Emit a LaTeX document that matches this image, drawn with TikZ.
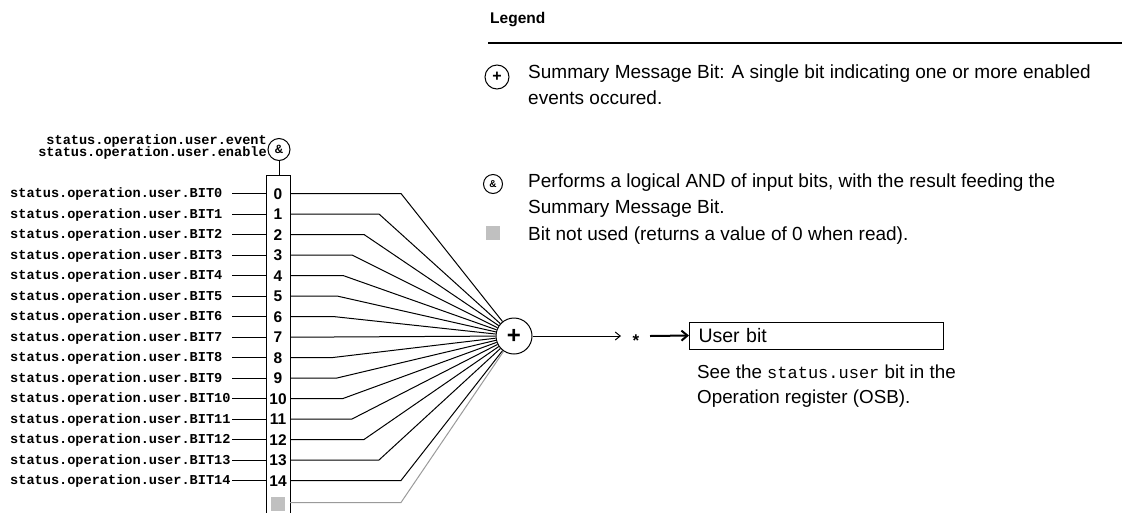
\documentclass[tikz,border=0pt]{standalone}
\usepackage{fontspec}
\setmainfont{Liberation Sans}
\setsansfont{Liberation Sans}
\setmonofont{Liberation Mono}
\usetikzlibrary{arrows.meta}
\definecolor{unused}{HTML}{C0C0C0}
\definecolor{unusedline}{HTML}{9A9A9A}
\tikzset{
 bitlbl/.style={anchor=base west, inner sep=0, font=\ttfamily\bfseries\fontsize{13.6}{14}\selectfont},
 evlbl/.style={anchor=base east, inner sep=0, font=\ttfamily\bfseries\fontsize{13.6}{14}\selectfont},
 bitnum/.style={anchor=base, inner sep=0, font=\bfseries\fontsize{15.5}{16}\selectfont},
 legtxt/.style={anchor=base west, inner sep=0, font=\fontsize{19}{22}\selectfont},
 desctxt/.style={anchor=base west, inner sep=0, font=\fontsize{18.8}{22}\selectfont},
 wire/.style={line width=1pt},
 ringnode/.style={circle, draw, line width=1pt, inner sep=0},
}
\begin{document}
\begin{tikzpicture}[x=1pt,y=-1pt]
\useasboundingbox (0,0) rectangle (1122,512);
\clip (0,0) rectangle (1122,512);

% register
\node[draw, line width=1pt, anchor=north, minimum width=24pt, minimum height=360pt, inner sep=0] (reg) at (278,175) {};
\node[ringnode, minimum size=22pt, font=\bfseries\fontsize{12}{12}\selectfont] (and) at (279,149.5) {\&};
\draw[wire] (and.south) -- (and.south |- reg.north);
\node[evlbl] (ev) at (267,144) {status.operation.user.event};
\node[evlbl] (en) at (267,156.5) {status.operation.user.enable};

% summary bit
\node[ringnode, minimum size=36pt, font=\bfseries\fontsize{24}{24}\selectfont] (sum) at (514,336) {+};

\foreach \i/\bx in {0/401,1/379,2/364,3/352,4/343,5/337,6/333,7/333,8/333,9/337,10/343,11/352,12/364,13/379,14/401} {
  \pgfmathsetmacro\yy{193.5+20.5*\i}
  \node[bitnum] (n\i) at (278,\yy+5.5) {\i};
  \node[bitlbl] (l\i) at (10,\yy+4) {status.operation.user.BIT\i};
  \coordinate (in\i) at (232,\yy);
  \coordinate (out\i) at (290,\yy);
  \coordinate (bend\i) at (\bx,\yy);
  \draw[wire] (in\i) -- (in\i -| reg.west);
  \draw[wire] (out\i) -- (bend\i) -- (sum);
}
\node[fill=unused, minimum size=14pt, inner sep=0] (n15) at (278,504) {};
\coordinate (out15) at (290,502.5);
\coordinate (bend15) at (401,502.5);
\draw[wire, unusedline] (out15) -- (bend15) -- (sum);

% output
\coordinate (tip) at (621,336);
\draw[wire, -{Straight Barb[length=5pt,width=8pt]}] (sum) -- (tip);
\node[anchor=base, inner sep=0, font=\bfseries\fontsize{17}{17}\selectfont] (star) at (636,346) {*};
\coordinate (ts) at (650,336);
\node[draw, line width=1pt, anchor=west, minimum width=254pt, minimum height=27pt, text width=236pt, inner xsep=9pt, inner ysep=0, align=left, font=\fontsize{19.5}{19.5}\selectfont] (ubox) at (689,335.5) {User bit};
\draw[line width=2pt, -{Straight Barb[length=6pt,width=10pt]}] (ts) -- (ubox.west);
\node[desctxt] (d1) at (697,378.5) {See the {\ttfamily\fontsize{17}{20}\selectfont status.user} bit in the};
\node[desctxt] (d2) at (697,403.5) {Operation register (OSB).};

% legend
\node[anchor=base west, inner sep=0, font=\bfseries\fontsize{15.5}{15.5}\selectfont] (leg) at (490,23) {Legend};
\coordinate (r1) at (488,43);
\coordinate (r2) at (1122,43);
\draw[line width=2pt] (r1) -- (r2);
\node[ringnode, minimum size=24pt, font=\bfseries\fontsize{16}{16}\selectfont] (lsum) at (497,77) {+};
\node[legtxt] (t1) at (528,78.5) {Summary Message Bit: A single bit indicating one or more enabled};
\node[legtxt] (t2) at (528,104.5) {events occured.};
\node[ringnode, minimum size=19pt, font=\bfseries\fontsize{10}{10}\selectfont] (land) at (493,184) {\&};
\node[legtxt] (t3) at (528,187.5) {Performs a logical AND of input bits, with the result feeding the};
\node[legtxt] (t4) at (528,213.5) {Summary Message Bit.};
\node[fill=unused, minimum size=14pt, inner sep=0] (lsq) at (493,233) {};
\node[legtxt] (t5) at (528,240) {Bit not used (returns a value of 0 when read).};
\end{tikzpicture}
\end{document}
